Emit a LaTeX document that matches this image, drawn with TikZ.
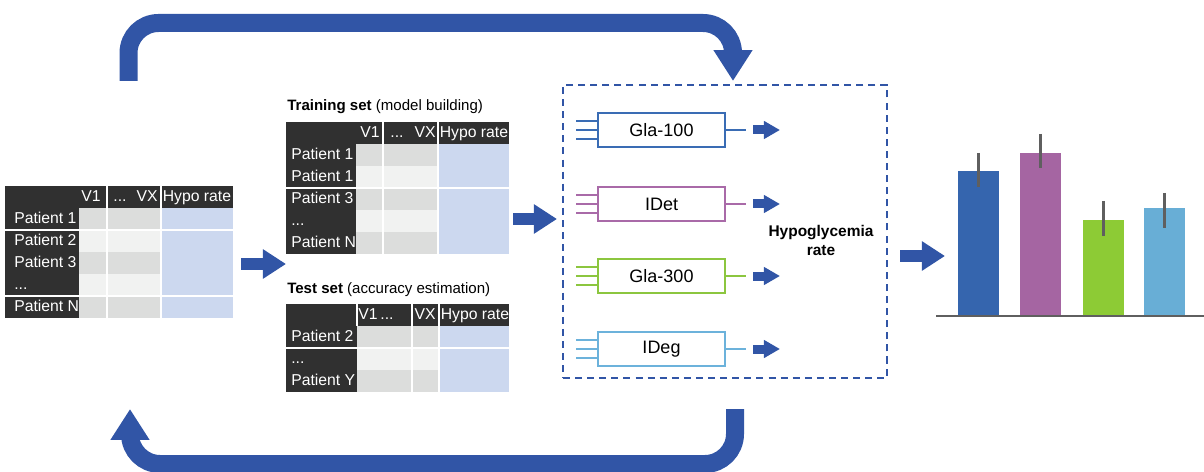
\documentclass[tikz,border=0pt]{standalone}
\usepackage{fontspec}
\setmainfont{Liberation Sans}
\usepackage{xcolor}
\usetikzlibrary{arrows.meta}

\definecolor{tabdark}{HTML}{303030}
\definecolor{cellgrey}{HTML}{DCDDDC}
\definecolor{celllight}{HTML}{F1F2F1}
\definecolor{cellblue}{HTML}{CCD8EF}
\definecolor{flowblue}{HTML}{3155A6}
\definecolor{glaA}{HTML}{3A6CB4}
\definecolor{idet}{HTML}{A96AA8}
\definecolor{glaB}{HTML}{8CC63F}
\definecolor{ideg}{HTML}{6CB2DB}
\definecolor{barA}{HTML}{3565AE}
\definecolor{barB}{HTML}{A565A2}
\definecolor{barC}{HTML}{8DCB35}
\definecolor{barD}{HTML}{68AED6}
\definecolor{axisgrey}{HTML}{5F5F5F}

% row placeholder, kept out of \foreach lists
\newcommand{\rowdots}{...}

\begin{document}
\begin{tikzpicture}[
    x = 0.025cm, y = -0.025cm,
    celltext/.style = {text=white, inner sep=0pt,
                       font=\fontsize{11.2}{13}\selectfont,
                       text height=8.2pt, text depth=2.3pt},
    settitle/.style = {inner sep=0pt, anchor=west,
                       font=\fontsize{10.7}{13}\selectfont},
    sepline/.style  = {white, line width=1.1pt},
    modelbox/.style = {draw, line width=1.4pt, fill=white,
                       minimum width=3.175cm, minimum height=0.85cm,
                       inner sep=0pt,
                       font=\fontsize{12.8}{15}\selectfont},
    wire/.style     = {line width=1.4pt},
    dashbox/.style  = {draw=flowblue, line width=1.8pt,
                       dash pattern=on 5pt off 3.6pt,
                       minimum width=8.1cm, minimum height=7.325cm,
                       inner sep=0pt},
    bigarrow/.style = {flowblue, line width=8.5pt,
                       -{Triangle[length=16.4pt, width=19.9pt]}},
    smallarrow/.style = {flowblue, line width=6.4pt,
                         -{Triangle[length=11.4pt, width=12.1pt]}},
    looparrow/.style  = {flowblue, line width=12.8pt,
                         -{Triangle[length=22pt, width=26.3pt]}},
    errbar/.style   = {axisgrey, line width=1.5pt}
]
\useasboundingbox (0,0) rectangle (1204,472);

%% Full data set
\fill[tabdark] (5,186) rectangle (233,208);
\fill[tabdark] (5,208) rectangle (79,318);
\foreach \y/\c in {208/cellgrey, 230/celllight, 252/cellgrey,
                   274/celllight, 296/cellgrey}
    \fill[\c] (79,\y) rectangle (161,\y+22);
\fill[cellblue] (161,208) rectangle (233,318);
\draw[sepline] (107,186) -- (107,318) (161,186) -- (161,318)
               (5,230) -- (233,230) (5,296) -- (233,296);
\node[celltext, anchor=east] (all-v1)   at (101,197) {V1};
\node[celltext]              (all-dots) at (120,197) {\rowdots};
\node[celltext, anchor=east] (all-vx)   at (158,197) {VX};
\node[celltext]              (all-hypo) at (197,197) {Hypo rate};
\foreach \y/\t [count=\i] in {219/Patient 1, 241/Patient 2,
                              263/Patient 3, 285/\rowdots, 307/Patient N}
    \node[celltext, anchor=west] (all-p\i) at (14,\y) {\t};

%% Training set
\node[settitle] (train-title) at (287,107)
    {\textbf{Training set} (model building)};
\fill[tabdark] (286,122) rectangle (509,144);
\fill[tabdark] (286,144) rectangle (356,254);
\foreach \y/\c in {144/cellgrey, 166/celllight, 188/cellgrey,
                   210/celllight, 232/cellgrey}
    \fill[\c] (356,\y) rectangle (438,\y+22);
\fill[cellblue] (438,144) rectangle (509,254);
\draw[sepline] (383,122) -- (383,254) (438,122) -- (438,254)
               (286,188) -- (509,188);
\node[celltext, anchor=east] (train-v1)   at (380,133) {V1};
\node[celltext]              (train-dots) at (397,133) {\rowdots};
\node[celltext, anchor=east] (train-vx)   at (436,133) {VX};
\node[celltext]              (train-hypo) at (474,133) {Hypo rate};
\foreach \y/\t [count=\i] in {155/Patient 1, 177/Patient 1,
                              199/Patient 3, 221/\rowdots, 243/Patient N}
    \node[celltext, anchor=west] (train-p\i) at (291,\y) {\t};

%% Test set
\node[settitle] (test-title) at (287,290)
    {\textbf{Test set} (accuracy estimation)};
\fill[tabdark] (286,304) rectangle (509,326);
\fill[tabdark] (286,326) rectangle (357,392);
\foreach \y/\c in {326/cellgrey, 348/celllight, 370/cellgrey}
    \fill[\c] (357,\y) rectangle (439,\y+22);
\fill[cellblue] (439,326) rectangle (509,392);
\draw[sepline] (357,304) -- (357,326) (412,304) -- (412,392)
               (439,304) -- (439,392) (286,348) -- (509,348);
\node[celltext]              (test-v1)   at (368,315) {V1};
\node[celltext]              (test-dots) at (387,315) {\rowdots};
\node[celltext]              (test-vx)   at (425,315) {VX};
\node[celltext]              (test-hypo) at (475,315) {Hypo rate};
\foreach \y/\t [count=\i] in {337/Patient 2, 359/\rowdots, 381/Patient Y}
    \node[celltext, anchor=west] (test-p\i) at (291,\y) {\t};

%% Models
\node[dashbox] (models) at (725,231.5) {};
\foreach \t/\c/\y [count=\i] in {Gla-100/glaA/130, IDet/idet/204,
                                 Gla-300/glaB/276, IDeg/ideg/349}
{
    \node[modelbox, draw=\c] (m\i) at (661.5,\y) {\t};
    \draw[wire, \c] (576,\y-9) -- (m\i.west |- 0,\y-9)
                    (576,\y)   -- (m\i.west)
                    (576,\y+9) -- (m\i.west |- 0,\y+9);
    \draw[wire, \c] (m\i.east) -- ++(20,0) coordinate (m\i-out);
    \draw[smallarrow] ([xshift=0.175cm]m\i-out) -- ++(27,0);
}
\node[font=\bfseries\fontsize{11}{13.5}\selectfont, align=center,
      inner sep=0pt] (hyporate) at (821,240) {Hypoglycemia\\rate};

%% Bar chart
\coordinate (axis-l) at (936,316);
\coordinate (axis-r) at (1204,316);
\draw[axisgrey, line width=2pt] (axis-l) -- (axis-r);
\foreach \xl/\top/\elo/\ehi/\c in {958/171/153/187/barA,
                                   1020/153/134/168/barB,
                                   1083/220/201/236/barC,
                                   1144/208/193/228/barD}
{
    \fill[\c] (\xl,\top) rectangle (\xl+41,315);
    \draw[errbar] (\xl+20.5,\elo) -- (\xl+20.5,\ehi);
}

%% Flow arrows
\coordinate (split-a) at (241,264);
\coordinate (split-b) at (286,264);
\coordinate (fit-a)   at (513,219);
\coordinate (fit-b)   at (557,219);
\coordinate (rate-a)  at (900,256);
\coordinate (rate-b)  at (945,256);
\draw[bigarrow] (split-a) -- (split-b);
\draw[bigarrow] (fit-a)   -- (fit-b);
\draw[bigarrow] (rate-a)  -- (rate-b);

%% Loop back and forth
\coordinate (loop-out) at (128.5,81);
\coordinate (loop-in)  at (733,81);
\coordinate (back-out) at (735,409);
\coordinate (back-in)  at (130,409);
\draw[looparrow, rounded corners=0.75cm]
    (loop-out) -- (128.5,23) -- (733,23) -- (loop-in);
\draw[looparrow, rounded corners=0.75cm]
    (back-out) -- (735,464) -- (130,464) -- (back-in);
\end{tikzpicture}
\end{document}
